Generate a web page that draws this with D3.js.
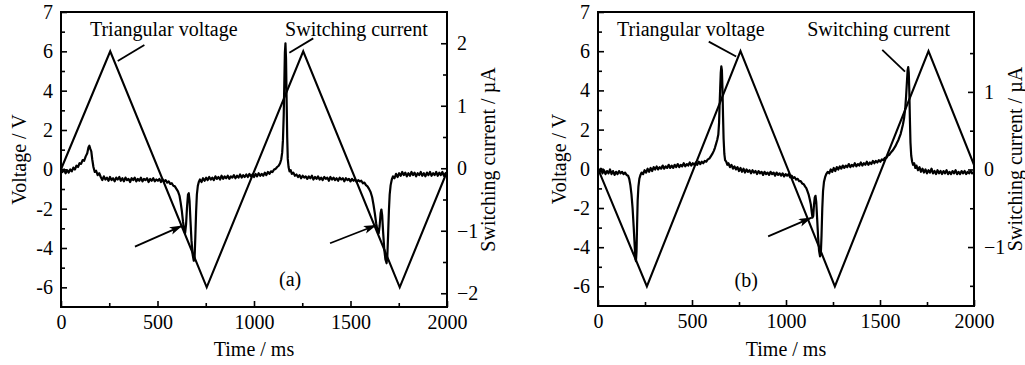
<!DOCTYPE html>
<html><head><meta charset="utf-8">
<script src="https://cdn.jsdelivr.net/npm/d3@7"></script>
<style>
body{margin:0;background:#fff}
svg text{font-family:"Liberation Serif","Times New Roman",serif;fill:#000;font-size:20px}
</style>
</head><body><svg id="c" width="1025" height="365"></svg>
<script>
// ---------------- data ----------------
const timeTicks = [0, 500, 1000, 1500, 2000];
const timeMinor = [250, 750, 1250, 1750];
const voltTicks = [-6, -4, -2, 0, 2, 4, 6, 8];
const voltTickLabels = ["-6", "-4", "-2", "0", "2", "4", "6", "7"];
const voltMinor = [-5, -3, -1, 1, 3, 5, 7];
const curTicksA = [-2, -1, 0, 1, 2];
const curTicksB = [-1, 0, 1];
const curMinor = [-1.5, -0.5, 0.5, 1.5];

// triangular voltage (ms, V)
const voltageA = [[0,0],[255,6],[755,-6],[1255,6],[1755,-6],[2000,-0.12]];
const voltageB = [[0,0],[260,-6],[758,6],[1260,-6],[1758,6],[2000,0.2]];

// switching current (ms, µA)
const currentA = [
[0,0.00],[8,-0.06],[16,-0.02],[24,-0.08],[32,-0.03],[40,-0.07],[48,-0.02],[56,-0.05],[64,0.01],[72,-0.02],
[80,0.04],[88,0.02],[96,0.08],[104,0.07],[112,0.13],[120,0.12],[128,0.19],[136,0.24],[142,0.33],[147,0.36],
[152,0.31],[157,0.27],[162,0.14],[168,0.02],[175,-0.06],[182,-0.04],[190,-0.11],[198,-0.08],
[206,-0.14],[214,-0.19],[222,-0.13],[230,-0.18],[238,-0.15],[246,-0.20],[254,-0.14],[262,-0.19],[270,-0.16],
[278,-0.21],[286,-0.15],[294,-0.18],[302,-0.14],[310,-0.20],[318,-0.16],[326,-0.21],[334,-0.15],[342,-0.19],
[350,-0.17],[358,-0.22],[366,-0.16],[374,-0.19],[382,-0.15],[390,-0.21],[398,-0.17],[406,-0.20],[414,-0.15],
[422,-0.21],[430,-0.17],[438,-0.19],[446,-0.16],[454,-0.22],[462,-0.17],[470,-0.20],[478,-0.16],[486,-0.21],
[494,-0.18],[502,-0.20],[510,-0.17],[518,-0.22],[526,-0.18],[534,-0.21],[542,-0.19],[550,-0.23],[558,-0.21],
[566,-0.25],[574,-0.24],[582,-0.28],[590,-0.29],[598,-0.33],[606,-0.37],[614,-0.44],[620,-0.55],[626,-0.68],
[632,-0.85],[638,-0.98],[643,-1.04],[648,-0.90],[653,-0.62],[658,-0.42],[662,-0.40],[666,-0.52],[671,-0.85],
[676,-1.15],[682,-1.38],[688,-1.48],[692,-1.45],[696,-1.10],[700,-0.70],[704,-0.42],[709,-0.28],[714,-0.22],
[720,-0.18],[728,-0.22],[736,-0.16],[744,-0.20],[752,-0.15],[760,-0.19],[768,-0.14],[776,-0.18],[784,-0.15],
[792,-0.19],[800,-0.13],[808,-0.17],[816,-0.14],[824,-0.18],[832,-0.12],[840,-0.17],[848,-0.13],[856,-0.16],
[864,-0.12],[872,-0.17],[880,-0.13],[888,-0.15],[896,-0.11],[904,-0.16],[912,-0.12],[920,-0.15],[928,-0.10],
[936,-0.15],[944,-0.11],[952,-0.14],[960,-0.10],[968,-0.14],[976,-0.09],[984,-0.13],[992,-0.10],[1000,-0.14],
[1008,-0.09],[1016,-0.13],[1024,-0.08],[1032,-0.12],[1040,-0.09],[1048,-0.12],[1056,-0.07],[1064,-0.11],
[1072,-0.06],[1080,-0.09],[1088,-0.05],[1096,-0.06],[1104,-0.02],[1112,-0.01],[1120,0.02],[1128,0.04],
[1135,0.08],[1141,0.14],[1146,0.25],[1150,0.45],[1154,0.85],[1157,1.35],[1160,1.85],[1163,2.00],[1166,1.75],
[1169,1.10],[1172,0.50],[1175,0.15],[1179,0.02],[1184,-0.05],[1190,-0.03],[1196,-0.09],[1204,-0.07],[1212,-0.12],
[1220,-0.10],[1228,-0.14],[1236,-0.11],[1244,-0.16],[1252,-0.12],[1260,-0.15],[1268,-0.13],[1276,-0.17],
[1284,-0.13],[1292,-0.16],[1300,-0.12],[1308,-0.18],[1316,-0.14],[1324,-0.17],[1332,-0.13],[1340,-0.18],
[1348,-0.15],[1356,-0.19],[1364,-0.14],[1372,-0.17],[1380,-0.15],[1388,-0.20],[1396,-0.14],[1404,-0.18],
[1412,-0.15],[1420,-0.19],[1428,-0.16],[1436,-0.20],[1444,-0.15],[1452,-0.18],[1460,-0.16],[1468,-0.21],
[1476,-0.16],[1484,-0.19],[1492,-0.17],[1500,-0.21],[1508,-0.17],[1516,-0.20],[1524,-0.18],[1532,-0.22],
[1540,-0.19],[1548,-0.21],[1556,-0.20],[1564,-0.24],[1572,-0.23],[1580,-0.27],[1588,-0.29],[1596,-0.33],
[1604,-0.38],[1612,-0.46],[1619,-0.58],[1626,-0.72],[1633,-0.88],[1640,-1.00],[1646,-1.04],[1651,-0.92],
[1656,-0.72],[1660,-0.66],[1664,-0.75],[1669,-1.02],[1675,-1.30],[1681,-1.46],[1687,-1.52],[1691,-1.40],
[1695,-1.05],[1699,-0.68],[1703,-0.42],[1708,-0.27],[1714,-0.18],[1720,-0.13],[1728,-0.16],[1736,-0.09],
[1744,-0.14],[1752,-0.08],[1760,-0.12],[1768,-0.06],[1776,-0.11],[1784,-0.07],[1792,-0.13],[1800,-0.08],
[1808,-0.12],[1816,-0.06],[1824,-0.11],[1832,-0.07],[1840,-0.13],[1848,-0.08],[1856,-0.11],[1864,-0.06],
[1872,-0.12],[1880,-0.08],[1888,-0.13],[1896,-0.07],[1904,-0.11],[1912,-0.06],[1920,-0.12],[1928,-0.08],
[1936,-0.11],[1944,-0.06],[1952,-0.12],[1960,-0.07],[1968,-0.11],[1976,-0.06],[1984,-0.12],[1992,-0.08],[2000,-0.10]
];
const currentB = [
[0,0.00],[8,-0.04],[16,0.01],[24,-0.05],[32,-0.01],[40,-0.06],[48,-0.02],[56,-0.05],[64,0.00],[72,-0.06],
[80,-0.02],[88,-0.07],[96,-0.03],[104,-0.06],[112,-0.02],[120,-0.05],[128,-0.03],[136,-0.06],[144,-0.04],
[152,-0.07],[160,-0.08],[166,-0.12],[172,-0.20],[178,-0.32],[184,-0.50],[190,-0.75],[195,-0.98],[199,-1.15],
[202,-1.18],[205,-1.05],[208,-0.70],[211,-0.40],[215,-0.22],[220,-0.12],[226,-0.07],[232,-0.04],[240,-0.06],
[248,-0.01],[256,-0.04],[264,0.01],[272,-0.03],[280,0.02],[288,-0.02],[296,0.03],[304,0.00],[312,0.04],
[320,0.00],[328,0.03],[336,0.01],[344,0.05],[352,0.01],[360,0.04],[368,0.02],[376,0.06],[384,0.02],[392,0.05],
[400,0.02],[408,0.06],[416,0.03],[424,0.07],[432,0.03],[440,0.06],[448,0.04],[456,0.08],[464,0.04],[472,0.07],
[480,0.05],[488,0.09],[496,0.05],[504,0.08],[512,0.06],[520,0.09],[528,0.06],[536,0.10],[544,0.07],[552,0.10],
[560,0.08],[568,0.11],[576,0.10],[584,0.13],[592,0.14],[600,0.17],[608,0.20],[616,0.24],[622,0.28],[628,0.33],
[634,0.38],[640,0.45],[644,0.60],[647,0.85],[650,1.05],[653,1.25],[656,1.33],[659,1.28],[662,1.05],[665,0.70],
[668,0.40],[672,0.20],[676,0.12],[682,0.10],[688,0.06],[694,0.08],[702,0.03],[710,0.06],[718,0.01],[726,0.04],
[734,0.00],[742,0.03],[750,-0.02],[758,0.02],[766,-0.03],[774,0.01],[782,-0.04],[790,0.00],[798,-0.03],
[806,-0.01],[814,-0.05],[822,-0.01],[830,-0.04],[838,-0.02],[846,-0.06],[854,-0.02],[862,-0.05],[870,-0.03],
[878,-0.07],[886,-0.03],[894,-0.06],[902,-0.04],[910,-0.07],[918,-0.03],[926,-0.06],[934,-0.04],[942,-0.08],
[950,-0.04],[958,-0.07],[966,-0.05],[974,-0.08],[982,-0.05],[990,-0.09],[998,-0.06],[1006,-0.08],[1014,-0.06],
[1022,-0.10],[1030,-0.08],[1038,-0.11],[1046,-0.10],[1054,-0.13],[1062,-0.12],[1070,-0.15],[1078,-0.15],
[1086,-0.18],[1094,-0.19],[1102,-0.22],[1108,-0.24],[1114,-0.28],[1120,-0.32],[1126,-0.38],[1132,-0.45],
[1137,-0.55],[1141,-0.62],[1145,-0.60],[1149,-0.45],[1153,-0.36],[1157,-0.34],[1161,-0.42],[1166,-0.65],
[1171,-0.88],[1176,-1.05],[1181,-1.12],[1185,-1.10],[1189,-0.85],[1193,-0.50],[1197,-0.28],[1202,-0.16],
[1208,-0.10],[1214,-0.06],[1222,-0.03],[1230,-0.05],[1238,0.00],[1246,-0.03],[1254,0.02],[1262,-0.02],
[1270,0.03],[1278,0.00],[1286,0.04],[1294,0.01],[1302,0.05],[1310,0.02],[1318,0.05],[1326,0.03],[1334,0.07],
[1342,0.03],[1350,0.06],[1358,0.04],[1366,0.08],[1374,0.04],[1382,0.07],[1390,0.05],[1398,0.09],[1406,0.05],
[1414,0.08],[1422,0.06],[1430,0.10],[1438,0.06],[1446,0.09],[1454,0.07],[1462,0.11],[1470,0.08],[1478,0.11],
[1486,0.09],[1494,0.12],[1502,0.10],[1510,0.13],[1518,0.12],[1526,0.15],[1534,0.15],[1542,0.18],[1550,0.19],
[1558,0.22],[1566,0.24],[1574,0.27],[1582,0.30],[1590,0.34],[1598,0.38],[1604,0.42],[1610,0.46],[1616,0.52],
[1622,0.58],[1628,0.66],[1634,0.78],[1639,0.95],[1643,1.12],[1647,1.28],[1650,1.32],[1653,1.25],[1656,1.00],
[1659,0.65],[1662,0.35],[1666,0.18],[1671,0.10],[1676,0.06],[1682,0.08],[1688,0.02],[1694,0.05],[1702,-0.01],
[1710,0.03],[1718,-0.03],[1726,0.01],[1734,-0.04],[1742,0.00],[1750,-0.05],[1758,-0.01],[1766,-0.04],
[1774,0.01],[1782,-0.05],[1790,-0.02],[1798,-0.06],[1806,-0.01],[1814,-0.05],[1822,-0.02],[1830,-0.06],
[1838,-0.02],[1846,-0.05],[1854,-0.01],[1862,-0.06],[1870,-0.03],[1878,-0.06],[1886,-0.02],[1894,-0.05],
[1902,-0.01],[1910,-0.06],[1918,-0.03],[1926,-0.06],[1934,-0.02],[1942,-0.05],[1950,-0.02],[1958,-0.06],
[1966,-0.03],[1974,-0.05],[1982,-0.02],[1990,-0.05],[2000,-0.03]
];

// annotations in data units (time ms, voltage V)
const labelsA = [["Triangular voltage",150,6.78,"start"],["Switching current",1161,6.78,"start"],["(a)",1187,-5.93,"middle"]];
const leadersA = [[294,5.51,432,6.32],[1183,5.93,1307,6.66]];
const arrowsA = [[383,-3.93,630,-2.86],[1394,-3.76,1636,-2.83]];
const labelsB = [["Triangular voltage",101,6.78,"start"],["Switching current",1113,6.78,"start"],["(b)",788,-6.03,"middle"]];
const leadersB = [[589,6.49,735,5.73],[1512,6.07,1633,4.96]];
const arrowsB = [[905,-3.45,1137,-2.49]];

// ---------------- drawing ----------------
const svg = d3.select("#c");
const defs = svg.append("defs");
defs.append("marker").attr("id","ah").attr("markerUnits","userSpaceOnUse")
  .attr("markerWidth",14).attr("markerHeight",10).attr("refX",13).attr("refY",4)
  .attr("orient","auto")
  .append("path").attr("d","M0,0 L13,4 L0,8 L3,4 z").attr("fill","#000");

function panel(cfg){
  const g = svg.append("g");
  const x = d3.scaleLinear().domain([0,2000]).range([cfg.left,cfg.right]);
  const yV = d3.scaleLinear().domain([-7,8]).range([cfg.bottom,cfg.top]);
  const yI = d3.scaleLinear().domain(cfg.curDomain).range([cfg.bottom,cfg.top]);

  function styleAxis(sel){
    sel.select(".domain").remove();
    sel.selectAll(".tick line").attr("stroke","#000").attr("stroke-width",1.6);
    sel.selectAll("text").attr("font-size",20).attr("font-family",null);
  }
  // bottom
  g.append("g").attr("transform",`translate(0,${cfg.bottom})`)
    .call(d3.axisBottom(x).tickValues(timeTicks).tickSize(-6).tickPadding(8).tickFormat(d3.format("d")))
    .call(styleAxis);
  g.append("g").attr("transform",`translate(0,${cfg.bottom})`)
    .call(d3.axisBottom(x).tickValues(timeMinor).tickSize(-4).tickFormat(""))
    .call(styleAxis);
  // left voltage
  g.append("g").attr("transform",`translate(${cfg.left},0)`)
    .call(d3.axisLeft(yV).tickValues(voltTicks).tickSize(-6).tickPadding(8)
      .tickFormat((d,i)=>voltTickLabels[i]))
    .call(styleAxis);
  g.append("g").attr("transform",`translate(${cfg.left},0)`)
    .call(d3.axisLeft(yV).tickValues(voltMinor).tickSize(-4).tickFormat(""))
    .call(styleAxis);
  // right current
  g.append("g").attr("transform",`translate(${cfg.right},0)`)
    .call(d3.axisRight(yI).tickValues(cfg.curTicks).tickSize(-6).tickPadding(10).tickFormat(d3.format("d")))
    .call(styleAxis);
  g.append("g").attr("transform",`translate(${cfg.right},0)`)
    .call(d3.axisRight(yI).tickValues(curMinor).tickSize(-4).tickFormat(""))
    .call(styleAxis);

  // frame
  g.append("rect").attr("x",cfg.left).attr("y",cfg.top)
    .attr("width",cfg.right-cfg.left).attr("height",cfg.bottom-cfg.top)
    .attr("fill","none").attr("stroke","#000").attr("stroke-width",2);

  // lines
  const clipId = "clip"+cfg.id;
  defs.append("clipPath").attr("id",clipId).append("rect")
    .attr("x",cfg.left).attr("y",cfg.top).attr("width",cfg.right-cfg.left).attr("height",cfg.bottom-cfg.top);
  const lg = g.append("g").attr("clip-path",`url(#${clipId})`);
  lg.append("path").datum(cfg.voltage)
    .attr("d", d3.line().x(d=>x(d[0])).y(d=>yV(d[1])))
    .attr("fill","none").attr("stroke","#000").attr("stroke-width",2.1).attr("stroke-linejoin","miter");
  lg.append("path").datum(cfg.current)
    .attr("d", d3.line().x(d=>x(d[0])).y(d=>yI(d[1])))
    .attr("fill","none").attr("stroke","#000").attr("stroke-width",2.2).attr("stroke-linejoin","round");

  // annotations
  cfg.labels.forEach(l=>{
    g.append("text").attr("x",x(l[1])).attr("y",yV(l[2])).attr("text-anchor",l[3])
      .attr("font-size",20.5).text(l[0]);
  });
  cfg.leaders.forEach(l=>{
    g.append("line").attr("x1",x(l[0])).attr("y1",yV(l[1])).attr("x2",x(l[2])).attr("y2",yV(l[3]))
      .attr("stroke","#000").attr("stroke-width",1.8);
  });
  cfg.arrows.forEach(l=>{
    g.append("line").attr("x1",x(l[0])).attr("y1",yV(l[1])).attr("x2",x(l[2])).attr("y2",yV(l[3]))
      .attr("stroke","#000").attr("stroke-width",1.8).attr("marker-end","url(#ah)");
  });

  // axis titles
  const midY = (cfg.top+cfg.bottom)/2;
  g.append("text").attr("x",(cfg.left+cfg.right)/2).attr("y",356).attr("text-anchor","middle").text("Time / ms");
  g.append("text").attr("transform",`translate(${cfg.vTitleX},${midY}) rotate(-90)`)
    .attr("text-anchor","middle").text("Voltage / V");
  g.append("text").attr("transform",`translate(${cfg.iTitleX},${midY}) rotate(-90)`)
    .attr("text-anchor","middle").text("Switching current / \u00B5A");
}

panel({id:"A",left:61,right:447,top:12,bottom:307,curDomain:[-2.22,2.5],curTicks:curTicksA,
  voltage:voltageA,current:currentA,labels:labelsA,leaders:leadersA,arrows:arrowsA,vTitleX:26,iTitleX:495});
panel({id:"B",left:598,right:974,top:12,bottom:306,curDomain:[-1.76,2.03],curTicks:curTicksB,
  voltage:voltageB,current:currentB,labels:labelsB,leaders:leadersB,arrows:arrowsB,vTitleX:566,iTitleX:1022});
</script></body></html>
